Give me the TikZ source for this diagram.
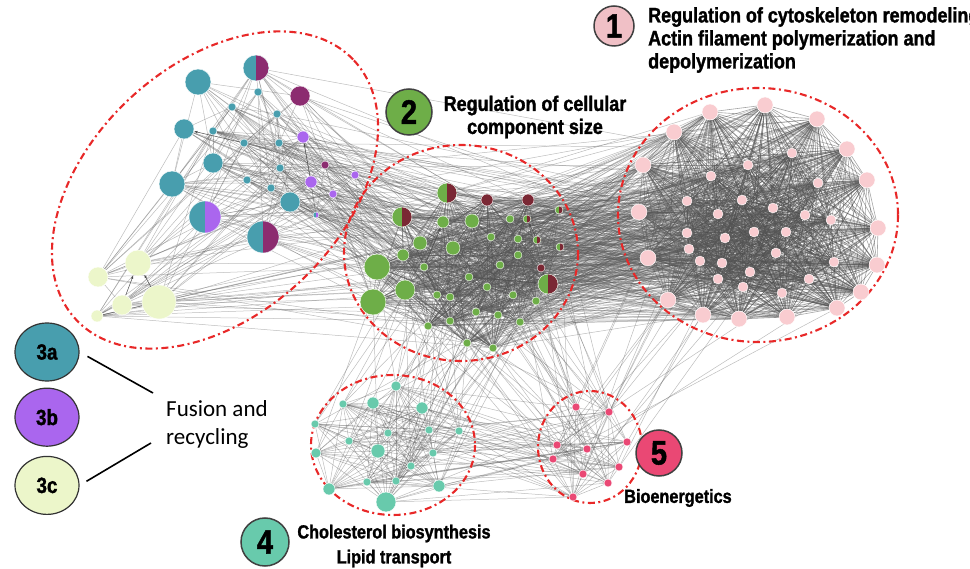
\documentclass[tikz,border=0pt]{standalone}
\usepackage{fontspec}
\newfontfamily\lblfont{Liberation Sans Bold}[FakeStretch=0.855, FakeBold=1.4]
\newfontfamily\fusfont{Carlito}
\usetikzlibrary{backgrounds,arrows.meta,shapes.geometric,positioning}

\definecolor{tealc}{RGB}{72,158,174}
\definecolor{purc}{RGB}{170,102,238}
\definecolor{magc}{RGB}{140,44,112}
\definecolor{yelc}{RGB}{236,246,202}
\definecolor{grnc}{RGB}{110,174,72}
\definecolor{marc}{RGB}{122,40,52}
\definecolor{pnkc}{RGB}{249,204,208}
\definecolor{pnkd}{RGB}{240,192,198}
\definecolor{mntc}{RGB}{104,202,172}
\definecolor{rosc}{RGB}{234,72,116}
\definecolor{redc}{RGB}{232,40,40}

\tikzset{
  nd/.style={circle, inner sep=0pt, draw=white, line width=0.4pt},
  ln/.style={draw=black!65, line width=0.5pt, opacity=0.4},
  arr/.style={-{Latex[length=3.5pt,width=2.5pt]}, draw=black!70, line width=0.5pt},
  grp/.style={draw=redc, line width=2.1pt, dash pattern=on 7pt off 3.5pt on 2pt off 3.5pt},
  num/.style={circle, draw=black!75, line width=1.5pt, inner sep=0pt, font=\lblfont\fontsize{34}{34}\selectfont},
  leg/.style={ellipse, draw=black!80, line width=1.2pt, minimum width=64pt, minimum height=58pt, inner sep=0pt, font=\lblfont\fontsize{22}{22}\selectfont},
  lbl/.style={font=\lblfont\fontsize{21}{23}\selectfont, inner sep=0pt},
  lbs/.style={font=\lblfont\fontsize{19}{25}\selectfont, inner sep=0pt},
  lg/.style={draw=black, line width=1.6pt}
}

% links inside one group, and between two groups
\newcommand\linkin[3]{%
  \foreach \i in {1,...,#2}{\foreach \j in {\i,...,#2}{%
    \pgfmathsetmacro\pick{rnd}%
    \ifnum\j>\i \ifdim\pick pt<#3pt \draw[ln] (#1\i) -- (#1\j);\fi\fi}}}
\newcommand\linkall[5]{%
  \foreach \i in {1,...,#2}{\foreach \j in {1,...,#4}{%
    \pgfmathsetmacro\pick{rnd}%
    \ifdim\pick pt<#5pt \draw[ln] (#1\i) -- (#3\j);\fi}}}

\begin{document}
\begin{tikzpicture}[x=1pt, y=-1pt]
  \useasboundingbox (0,0) rectangle (970,569);
  \pgfmathsetseed{4242}

  % 1: cytoskeleton
  \foreach \x/\y/\r [count=\k] in {710/112/8, 765/105/8, 817/119/8, 674/132/8, 847/149/8,
      643/165/8, 867/180/8, 639/212/8, 878/228/8, 648/258/8, 877/265/8, 668/300/8,
      861/292/8, 703/315/8, 739/319/8, 787/317/8, 837/308/8,
      792/153/5, 748/165/5, 711/176/5, 818/183/5, 687/201/5, 742/200/5, 773/208/5,
      805/215/5, 718/214/5, 831/220/5, 754/232/5, 786/232/5, 687/233/5, 725/238/5,
      689/249/5, 776/253/5, 700/261/5, 722/263/5, 834/262/5, 750/272/5, 718/279/5,
      809/279/5, 743/287/5, 782/293/5}
    \node[nd, fill=pnkc, minimum size=2*\r] (p\k) at (\x,\y) {};

  % 2: cellular component size
  \foreach \x/\y/\r/\ca/\cb [count=\k] in {447/193/10/grnc/marc, 487/200/6/marc/marc,
      528/200/6/marc/marc, 402/217/10/grnc/marc, 443/222/6/grnc/grnc, 472/221/7/grnc/grnc,
      510/219/4/grnc/grnc, 527/219/4/grnc/marc, 559/210/4/grnc/marc, 420/243/7/grnc/grnc,
      491/237/4/grnc/grnc, 518/239/4/grnc/grnc, 537/240/4/grnc/marc, 560/247/4/grnc/marc,
      403/255/6/grnc/grnc, 453/248/7/grnc/grnc, 518/255/4/grnc/grnc, 424/267/4/grnc/grnc,
      500/265/4/grnc/grnc, 541/268/4/marc/marc, 377/267/13/grnc/grnc, 469/277/4/grnc/grnc,
      548/284/10/grnc/marc, 373/302/13/grnc/grnc, 405/290/10/grnc/grnc, 437/295/4/grnc/grnc,
      450/297/4/grnc/grnc, 487/287/4/grnc/grnc, 513/295/4/grnc/grnc, 536/301/4/grnc/grnc,
      476/312/4/grnc/grnc, 498/315/4/grnc/grnc, 428/326/4/grnc/grnc, 450/321/4/grnc/grnc,
      520/322/4/grnc/grnc, 467/343/4/grnc/grnc, 493/348/4/grnc/grnc}
    \node[nd, fill=\ca, minimum size=2*\r, path picture={\fill[fill=\cb]
      (path picture bounding box.north) rectangle (path picture bounding box.south east);}]
      (g\k) at (\x,\y) {};

  % 3: fusion and recycling
  \foreach \x/\y/\r/\ca/\cb [count=\k] in {198/82/13/tealc/tealc, 256/68/13/tealc/magc,
      300/96/10/magc/magc, 258/92/4/tealc/tealc, 232/107/4/tealc/tealc, 277/114/4/tealc/tealc,
      184/129/10/tealc/tealc, 213/131/4/tealc/tealc, 244/143/4/tealc/tealc, 279/143/4/tealc/tealc,
      213/163/10/tealc/tealc, 280/168/4/tealc/tealc, 247/180/4/tealc/tealc, 271/188/4/tealc/tealc,
      172/184/13/tealc/tealc, 290/202/10/tealc/tealc, 303/137/6/purc/purc, 325/165/4/magc/magc,
      311/182/6/purc/purc, 333/194/4/purc/purc, 355/175/4/purc/purc, 316/215/3/tealc/purc,
      205/217/16/tealc/purc, 263/237/16/tealc/magc, 138/263/13/yelc/yelc, 98/277/10/yelc/yelc,
      159/302/17/yelc/yelc, 122/305/10/yelc/yelc, 97/316/6/yelc/yelc}
    \node[nd, fill=\ca, minimum size=2*\r, path picture={\fill[fill=\cb]
      (path picture bounding box.north) rectangle (path picture bounding box.south east);}]
      (f\k) at (\x,\y) {};

  % 4: cholesterol
  \foreach \x/\y/\r [count=\k] in {396/386/5, 343/404/4, 373/403/6, 422/408/6, 315/424/4,
      388/433/4, 429/430/4, 459/431/4, 349/441/4, 316/453/5, 378/451/7, 433/453/4,
      411/466/4, 367/482/4, 396/481/4, 329/489/6, 439/486/6, 386/502/10}
    \node[nd, fill=mntc, minimum size=2*\r] (k\k) at (\x,\y) {};

  % 5: bioenergetics
  \foreach \x/\y [count=\k] in {576/407, 609/412, 627/442, 557/445, 587/449, 553/459,
      619/467, 583/474, 608/483, 573/497}
    \node[nd, fill=rosc, minimum size=8] (e\k) at (\x,\y) {};

  \begin{pgfonlayer}{background}
    \begin{scope}[ln/.style={draw=black!70, line width=0.6pt, opacity=0.5}]
      \linkin{p}{41}{1}
      \linkin{g}{37}{0.55}
    \end{scope}
    \linkin{f}{29}{0.35}
    \linkin{k}{18}{0.75}
    \linkin{e}{10}{0.8}
    \linkall{g}{37}{p}{41}{0.35}
    \linkall{f}{29}{g}{37}{0.15}
    \linkall{f}{22}{p}{41}{0.04}
    \linkall{g}{37}{k}{18}{0.08}
    \linkall{g}{37}{e}{10}{0.1}
    \linkall{k}{18}{e}{10}{0.25}
    \linkall{p}{41}{e}{10}{0.03}

    \draw[arr] (f9) -- (f7);
    \draw[arr] (f28) -- (f25);
    \draw[arr] (f27) -- (f25);
    \draw[arr] (f19) -- (f17);
    \draw[arr] (g18) -- (g5);
    \draw[arr] (g13) -- (g8);
    \draw[arr] (g23) -- (g20);
    \draw[arr] (g22) -- (g23);

    \draw[grp, rotate around={43:(215,190)}] (215,190) ellipse [x radius=190, y radius=125];
    \draw[grp] (461,253) ellipse [x radius=117, y radius=108];
    \draw[grp] (758,215) ellipse [x radius=140, y radius=127];
    \draw[grp] (393,445) ellipse [x radius=82, y radius=70];
    \draw[grp] (590,447) ellipse [x radius=52, y radius=56];
  \end{pgfonlayer}

  % labels
  \node[num, fill=pnkd, minimum size=40] (n1) at (614,26) {1};
  \node[lbl, align=left, anchor=west] (t1) at (648,40)
    {Regulation of cytoskeleton remodeling\\Actin filament polymerization and\\depolymerization};
  \node[num, fill=grnc, minimum size=46] (n2) at (409,112) {2};
  \node[lbl, align=center] (t2) at (535,117) {Regulation of cellular\\component size};
  \node[num, fill=mntc, minimum size=48] (n4) at (265,542) {4};
  \node[lbs, align=center] (t4) at (394,546) {Cholesterol biosynthesis\\Lipid transport};
  \node[num, fill=rosc, minimum size=46] (n5) at (659,453) {5};
  \node[lbs] (t5) at (678,498) {Bioenergetics};

  % legend of group 3
  \node[leg, fill=tealc] (l3a) at (47,352) {3a};
  \node[leg, fill=purc, below=6pt of l3a] (l3b) {3b};
  \node[leg, fill=yelc, below=9pt of l3b] (l3c) {3c};
  \node[font=\fusfont\fontsize{23}{28}\selectfont, align=left, anchor=west, inner sep=0pt]
    (fus) at (166,424) {Fusion and\\recycling};
  \coordinate (fa) at (153,393);
  \coordinate (fc) at (151,443);
  \draw[lg, shorten <=9pt] (l3a.east) -- (fa);
  \draw[lg, shorten <=8pt] (l3c.east) -- (fc);

\end{tikzpicture}
\end{document}
